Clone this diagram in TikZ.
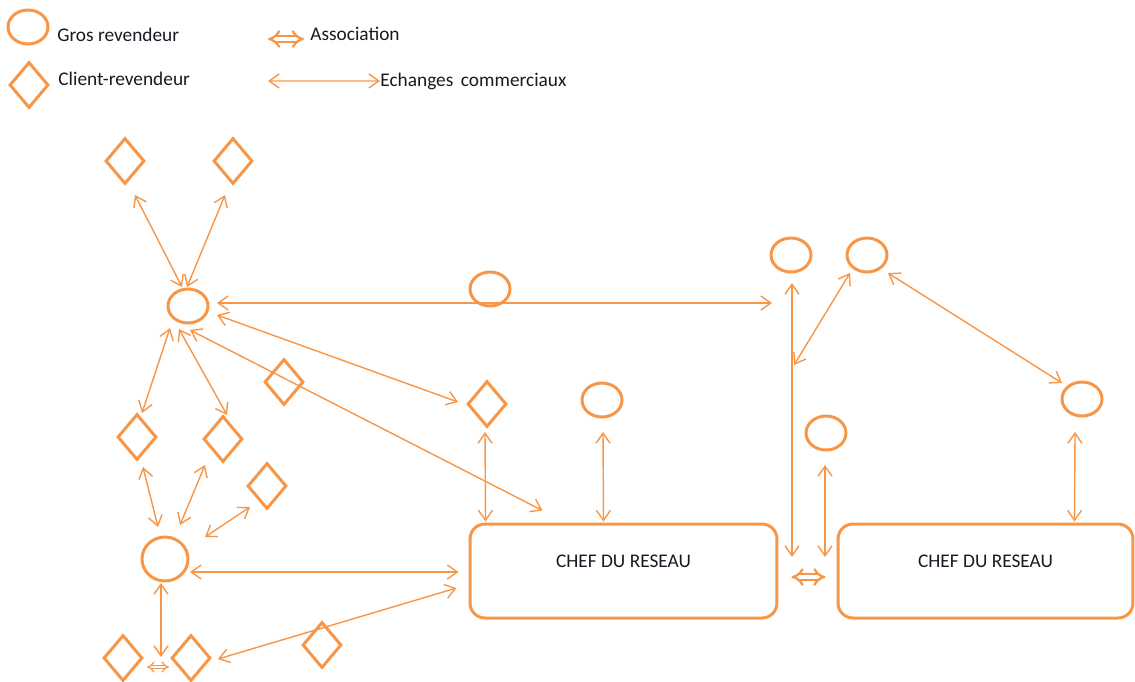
\documentclass[tikz,border=0pt]{standalone}
\usepackage{fontspec}
\setmainfont{Carlito}
\usepackage{tikz}
\usetikzlibrary{positioning,arrows.meta,shapes.geometric,calc}
\definecolor{orng}{RGB}{247,150,70}
\definecolor{txtclr}{RGB}{25,25,35}
\tikzset{
  grosrev/.style={ellipse,draw=orng,line width=1.7pt,
                  minimum width=0.8cm,minimum height=0.68cm,inner sep=0pt},
  clientrev/.style={diamond,draw=orng,line width=1.7pt,
                  minimum width=0.78cm,minimum height=0.92cm,inner sep=0pt},
  chef/.style={rectangle,draw=orng,line width=1.7pt,rounded corners=0.3cm,
                  minimum height=1.88cm,inner sep=0pt},
  txt/.style={inner sep=0pt,text=txtclr,font=\fontsize{11}{13}\selectfont},
  xarr/.style={draw=orng,line width=0.8pt,
               {Straight Barb[length=2mm,width=2.8mm]}-{Straight Barb[length=2mm,width=2.8mm]}},
  assoc/.style={draw=orng,line width=1.3pt,double=white,double distance=2pt,
                {Implies}-{Implies}},
}

\begin{document}
\begin{tikzpicture}[x=0.02cm,y=-0.02cm]
\useasboundingbox (0,0) rectangle (1135,681);

% legend
\node[grosrev] (lc) at (28,27) {};
\node[txt,anchor=base west] (lctxt) at (57,41) {Gros revendeur};
\node[clientrev] (ld) at (29,85) {};
\node[txt,anchor=base west] (ldtxt) at (58,85) {Client-revendeur};
\coordinate (la0) at (268,39);
\coordinate (la1) at (304,39);
\draw[assoc] (la0) -- (la1);
\node[txt,anchor=base west] (latxt) at (310,40) {Association};
\coordinate (lx0) at (268,81);
\node[txt,anchor=base west] (lxtxt) at (380,86) {Echanges\, commerciaux};
\draw[xarr] (lx0) -- (lxtxt.west);

% gros revendeurs
\node[grosrev] (c1) at (188,306) {};
\node[grosrev] (cm) at (490,289) {};
\node[grosrev] (c3) at (791,255) {};
\node[grosrev] (c4) at (867,255) {};
\node[grosrev] (c6) at (1082,399) {};
\node[grosrev] (c7) at (602,400) {};
\node[grosrev] (c5) at (826,433) {};
\node[grosrev,minimum width=0.92cm,minimum height=0.88cm] (c2) at (165,559) {};

% clients-revendeurs
\node[clientrev] (d1) at (125,161) {};
\node[clientrev] (d2) at (233,161) {};
\node[clientrev] (dm) at (284,382) {};
\node[clientrev] (d5) at (487,404) {};
\node[clientrev] (d3) at (137,437) {};
\node[clientrev] (d4) at (223,439) {};
\node[clientrev] (d6) at (267,486) {};
\node[clientrev] (d7) at (123,658) {};
\node[clientrev] (d8) at (191,658) {};
\node[clientrev] (d9) at (322,645) {};

% chefs du reseau
\node[chef,minimum width=6.14cm,
      label={[txt,anchor=base,yshift=0.2cm]center:CHEF DU RESEAU}] (box1) at (623.5,571) {};
\node[chef,minimum width=5.9cm,
      label={[txt,anchor=base,yshift=0.2cm]center:CHEF DU RESEAU}] (box2) at (985.5,571) {};

% free ends
\coordinate (hend) at (772,303);
\coordinate (jv) at (794,365);
\coordinate (asl) at (792,557);
\coordinate (asr) at (825,557);
\coordinate (dd) at (161,657);

% echanges commerciaux
\draw[xarr] ($(d1)+(10,34)$) -- ($(c1)+(-6,-19)$);
\draw[xarr] ($(d2)+(-8,34)$) -- ($(c1)+(-1,-19)$);
\draw[xarr] ($(c1)+(29,-3)$) -- (hend);
\draw[xarr] ($(c1)+(29,9)$) -- ($(d5)+(-29,-2)$);
\draw[xarr] ($(c1)+(2,24)$) -- ($(box1.north)+(-81,-12)$);
\draw[xarr] ($(c1)+(-18,22)$) -- ($(d3)+(5,-24)$);
\draw[xarr] ($(c1)+(-9,23)$) -- ($(d4)+(4,-24)$);
\draw[xarr] ($(d3)+(6,30)$) -- ($(c2)+(-7,-32)$);
\draw[xarr] ($(d4)+(-18,26)$) -- ($(c2)+(15,-34)$);
\draw[xarr] ($(d6)+(-17,21)$) -- ($(c2)+(40,-22)$);
\draw[xarr] ($(c2)+(25,13)$) -- ($(box1.west)+(-10,1)$);
\draw[xarr] ($(c2)+(-4,24)$) -- (dd);
\draw[xarr] ($(d8)+(27,1)$) -- ($(box1.west)+(-12,17)$);
\draw[xarr] ($(d5)+(-2,28)$) -- ($(box1.north)+(-138,-1)$);
\draw[xarr] ($(c7)+(1,32)$) -- ($(box1.north)+(-20,-1)$);
\draw[xarr] ($(c3)+(1,28)$) -- (asl);
\draw[xarr] ($(c4)+(-17,18)$) -- (jv);
\draw[xarr] ($(c4)+(21,18)$) -- ($(c6)+(-20,-16)$);
\draw[xarr] ($(c6)+(-7,33)$) -- ($(box2.north)+(89,-1)$);
\draw[xarr] ($(c5)+(-1,32)$) -- (asr);

% associations
\draw[assoc] ($(box1.east)+(13,6)$) -- ($(box2.west)+(-11,6)$);
\draw[assoc,line width=0.7pt,double distance=1.4pt] ($(d7.east)+(3,9)$) -- ($(d8.west)+(-1,9)$);
\end{tikzpicture}
\end{document}
